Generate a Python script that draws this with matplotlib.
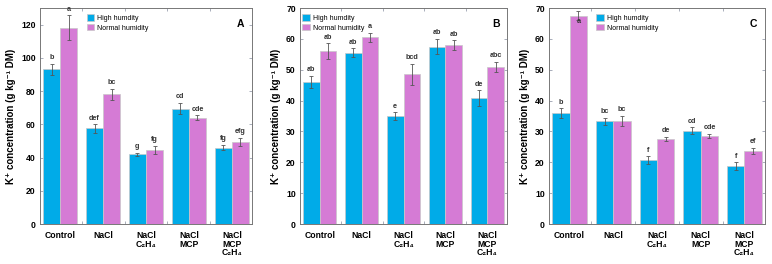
import numpy as np
import matplotlib.pyplot as plt

plt.rcParams["font.family"] = ["Liberation Sans", "DejaVu Sans"]

treatments = ["Control", "NaCl", "NaCl\nC₂H₄", "NaCl\nMCP", "NaCl\nMCP\nC₂H₄"]

# panel A
a_high = [93, 57.5, 42, 69.5, 46]
a_high_err = [3.5, 2.5, 1, 3.5, 1.5]
a_norm = [118, 78, 44.5, 64, 49.5]
a_norm_err = [7.5, 3.5, 2.5, 1.5, 2.5]
a_high_lab = ["b", "def", "g", "cd", "fg"]
a_norm_lab = ["a", "bc", "fg", "cde", "efg"]

# panel B
b_high = [46, 55.5, 35, 57.5, 40.8]
b_high_err = [2, 1.5, 1.2, 2.5, 2.5]
b_norm = [56, 60.5, 48.5, 58, 50.8]
b_norm_err = [2.5, 1.5, 3.5, 1.5, 1.7]
b_high_lab = ["ab", "ab", "e", "ab", "de"]
b_norm_lab = ["ab", "a", "bcd", "ab", "abc"]

# panel C
c_high = [36, 33.3, 20.7, 30.2, 18.8]
c_high_err = [1.5, 1.2, 1.2, 1.1, 1.2]
c_norm = [67.5, 33.3, 27.5, 28.6, 23.7]
c_norm_err = [1.5, 1.7, 0.7, 0.6, 1.0]
c_high_lab = ["b", "bc", "f", "cd", "f"]
c_norm_lab = ["a", "bc", "de", "cde", "ef"]

blue = "#00abe8"
pink = "#d57bd5"

fig = plt.figure(figsize=(7.72, 2.64), dpi=100)

panels = [
    ("A", [40, 212], 130, 20, 0.2, a_high, a_high_err, a_norm, a_norm_err, a_high_lab, a_norm_lab),
    ("B", [300, 207], 70, 10, -0.01, b_high, b_high_err, b_norm, b_norm_err, b_high_lab, b_norm_lab),
    ("C", [549, 216], 70, 10, 0.2, c_high, c_high_err, c_norm, c_norm_err, c_high_lab, c_norm_lab),
]

x = np.arange(len(treatments))
w = 0.4

for name, (left, width), ymax, step, legx, hi, hi_e, no, no_e, hi_l, no_l in panels:
    ax = fig.add_axes([left / 772, 40 / 264, width / 772, 216 / 264])
    ax.bar(x - w / 2, hi, w, color=blue, edgecolor="#c8c8c8", linewidth=0.5,
           label="High humdity", zorder=2)
    ax.bar(x + w / 2, no, w, color=pink, edgecolor="#c8c8c8", linewidth=0.5,
           label="Normal humidity", zorder=2)
    ax.errorbar(x - w / 2, hi, yerr=hi_e, fmt="none", ecolor="#555555",
                elinewidth=0.6, capsize=1.2, capthick=0.6, zorder=3)
    ax.errorbar(x + w / 2, no, yerr=no_e, fmt="none", ecolor="#555555",
                elinewidth=0.6, capsize=1.2, capthick=0.6, zorder=3)
    off = ymax * 0.012
    for i in range(len(x)):
        ax.text(x[i] - w / 2, hi[i] + hi_e[i] + off, hi_l[i], ha="center",
                va="bottom", fontsize=5.2, fontweight="bold", color="#333333")
        yy = no[i] + no_e[i] + off
        va = "bottom"
        if yy > ymax * 0.985:
            yy = no[i] - off
            va = "top"
        ax.text(x[i] + w / 2, yy, no_l[i], ha="center", va=va,
                fontsize=5.2, fontweight="bold", color="#333333")
    ax.set_xlim(-0.47, 4.47)
    ax.set_ylim(0, ymax)
    ax.set_yticks(np.arange(0, ymax + 1, step))
    ax.set_xticks(x)
    ax.set_xticks(x[:-1] + 0.5, minor=True)
    ax.set_xticklabels(treatments, fontsize=6.2, fontweight="bold", linespacing=0.95)
    for t in ax.get_yticklabels():
        t.set_fontsize(6.2)
        t.set_fontweight("bold")
    ax.tick_params(axis="y", direction="in", length=2.5, width=0.6, right=True,
                   color="#9aa0b0", pad=3)
    ax.tick_params(axis="x", which="major", length=0, pad=5)
    ax.tick_params(axis="x", which="minor", direction="in", length=2, width=0.6,
                   top=True, color="#9aa0b0")
    for s in ax.spines.values():
        s.set_linewidth(0.7)
        s.set_color("#777777")
    ax.set_ylabel("K⁺ concentration (g kg⁻¹ DM)", fontsize=7, fontweight="bold", labelpad=4)
    ax.text(0.965, 0.925, name, transform=ax.transAxes, ha="right", va="center",
            fontsize=7.5, fontweight="bold")
    ax.legend(loc="upper left", bbox_to_anchor=(legx, 0.99), fontsize=5, frameon=False,
              handlelength=1.1, handleheight=1.0, handletextpad=0.4, labelspacing=0.35,
              borderaxespad=0.2)

fig.savefig("out.png", dpi=100)
